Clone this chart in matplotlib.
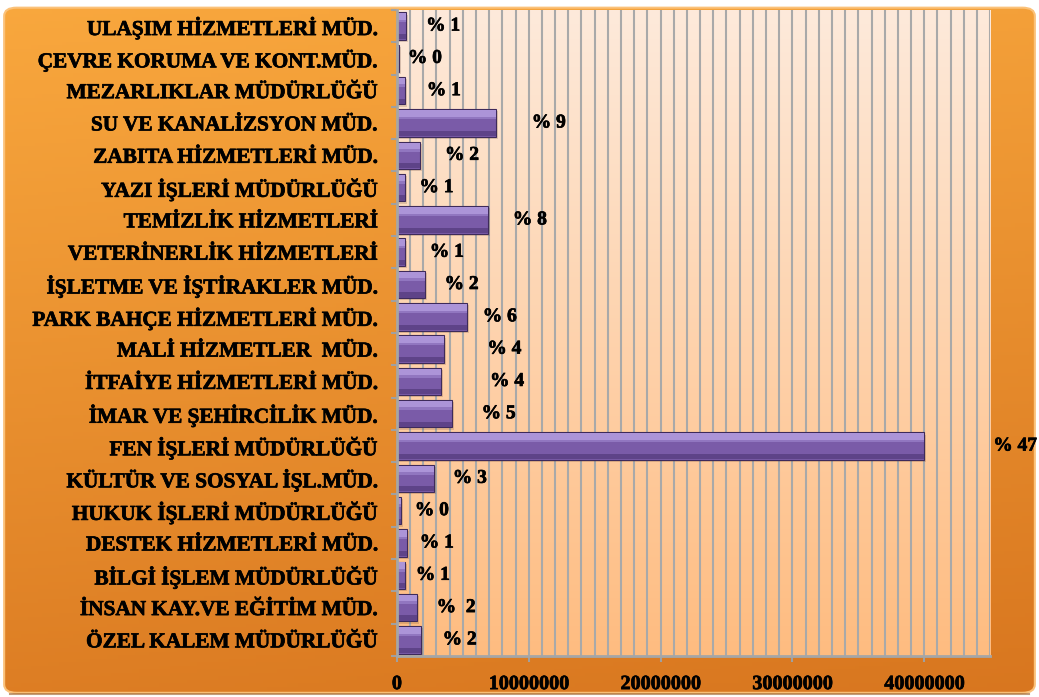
import numpy as np
import matplotlib.pyplot as plt
import matplotlib.patheffects as pe
from matplotlib.colors import to_rgb
from matplotlib.patches import FancyBboxPatch

plt.rcParams['font.family'] = ['Liberation Serif', 'DejaVu Serif']
plt.rcParams['font.weight'] = 'bold'

# birimler (alttan uste)
birimler = ['ÖZEL KALEM MÜDÜRLÜĞÜ', 'İNSAN KAY.VE EĞİTİM MÜD.', 'BİLGİ İŞLEM MÜDÜRLÜĞÜ',
            'DESTEK HİZMETLERİ MÜD.', 'HUKUK İŞLERİ MÜDÜRLÜĞÜ', 'KÜLTÜR VE SOSYAL İŞL.MÜD.',
            'FEN İŞLERİ MÜDÜRLÜĞÜ', 'İMAR VE ŞEHİRCİLİK MÜD.', 'İTFAİYE HİZMETLERİ MÜD.',
            'MALİ HİZMETLER  MÜD.', 'PARK BAHÇE HİZMETLERİ MÜD.', 'İŞLETME VE İŞTİRAKLER MÜD.',
            'VETERİNERLİK HİZMETLERİ', 'TEMİZLİK HİZMETLERİ', 'YAZI İŞLERİ MÜDÜRLÜĞÜ',
            'ZABITA HİZMETLERİ MÜD.', 'SU VE KANALİZSYON MÜD.', 'MEZARLIKLAR MÜDÜRLÜĞÜ',
            'ÇEVRE KORUMA VE KONT.MÜD.', 'ULAŞIM HİZMETLERİ MÜD.']
butce = [1800000, 1500000, 600000, 750000, 300000, 2800000, 40000000, 4150000, 3350000,
         3600000, 5300000, 2100000, 600000, 6900000, 650000, 1750000, 7500000, 600000,
         150000, 700000]
yuzde = ['% 2', '%  2', '% 1', '% 1', '% 0', '% 3', '% 47', '% 5', '% 4', '% 4',
         '% 6', '% 2', '% 1', '% 8', '% 1', '% 2', '% 9', '% 1', '% 0', '% 1']
# etiketlerin cubuk ucundan uzakligi (piksel)
etiket_kayma = [22, 20, 11, 13, 14, 19, 69, 30, 49, 43, 16, 20, 25, 25, 14, 25, 36, 22, 9, 20]

kalin = [pe.withStroke(linewidth=0.5, foreground='black')]

fig = plt.figure(figsize=(10.39, 6.97), dpi=100, facecolor='white')

# arka plan (turuncu gradyan)
bg = fig.add_axes([0, 0, 1, 1], zorder=-10)
h, w = 200, 300
yy, xx = np.mgrid[0:1:h * 1j, 0:1:w * 1j]
top = np.array(to_rgb('#F9A83E'))
bot = np.array(to_rgb('#D8761F'))
t = (yy * 0.85 + xx * 0.15)[..., None]
img = top * (1 - t) + bot * t
im = bg.imshow(img, extent=[0, 1, 0, 1], aspect='auto', origin='upper')
clip = FancyBboxPatch((0.004, 0.006), 0.992, 0.983, boxstyle='round,pad=0,rounding_size=0.012',
                      transform=bg.transAxes, facecolor='none', edgecolor='#FBC27A', lw=1.5)
bg.add_patch(clip)
im.set_clip_path(clip)
bg.plot([0.01, 0.99], [0.004, 0.004], color='#9A5A20', lw=1.5, alpha=0.6)
bg.set_xlim(0, 1)
bg.set_ylim(0, 1)
bg.axis('off')

ax = fig.add_axes([0.382, 0.0588, 0.571, 0.927])
ax.set_facecolor('none')
ax.set_xlim(0, 45000000)
ax.set_ylim(-0.5, len(birimler) - 0.5)

# cizim alani gradyani
g = np.linspace(0, 1, 256)[:, None, None]
c1 = np.array(to_rgb('#FDEADB'))
c2 = np.array(to_rgb('#FFBC80'))
ax.imshow(c1 * (1 - g) + c2 * g, extent=[0, 45000000, -0.5, len(birimler) - 0.5],
          aspect='auto', origin='upper', zorder=0)

ax.set_xticks(np.arange(0, 45000001, 1000000), minor=True)
ax.set_xticks(np.arange(0, 40000001, 10000000))
ax.set_xticklabels([str(v) for v in range(0, 40000001, 10000000)])
ax.grid(which='both', axis='x', color='#A9A9A9', lw=1.5, zorder=0.5)
ax.set_axisbelow(True)

y = np.arange(len(birimler))
hb = 0.85
# golge
ax.barh(y - 0.07, butce, height=hb, left=150000, color='#5A3A20', alpha=0.18, zorder=2)
# govde
ax.barh(y, butce, height=hb, color='#7A5BA8', edgecolor='#3E2A5A', lw=0.8, zorder=3)
ax.barh(y + hb / 2 - 0.13, butce, height=0.2, color='#AC94D8', zorder=4)
ax.barh(y + hb / 2 - 0.27, butce, height=0.08, color='#9176C0', zorder=4)
ax.barh(y - hb / 2 + 0.1, butce, height=0.16, color='#5E4388', zorder=4)

for i in range(len(birimler)):
    ax.annotate(yuzde[i], xy=(butce[i], y[i]), xytext=(etiket_kayma[i] * 0.72, 0),
                textcoords='offset points', va='center', ha='left', fontsize=14,
                fontweight='bold', color='black', annotation_clip=False, zorder=6,
                path_effects=kalin)

ax.set_yticks(y)
ax.set_yticklabels(birimler, fontsize=15.3, fontweight='bold')
ax.set_yticks(np.arange(-0.5, len(birimler)), minor=True)
ax.tick_params(axis='y', which='major', length=0, pad=14)
ax.tick_params(axis='y', which='minor', length=4, width=1.5, color='#A0A0A0')
ax.tick_params(axis='x', which='major', length=4, width=1.5, color='#A0A0A0',
               labelsize=14.5, pad=9)
ax.tick_params(axis='x', which='minor', length=0)
for lab in ax.get_xticklabels() + ax.get_yticklabels():
    lab.set_fontweight('bold')
    lab.set_path_effects(kalin)

for s in ['top', 'right']:
    ax.spines[s].set_visible(False)
for s in ['left', 'bottom']:
    ax.spines[s].set_color('#A6A6A6')
    ax.spines[s].set_linewidth(2)
    ax.spines[s].set_zorder(5)

fig.savefig('out.png', dpi=100, facecolor=fig.get_facecolor())
